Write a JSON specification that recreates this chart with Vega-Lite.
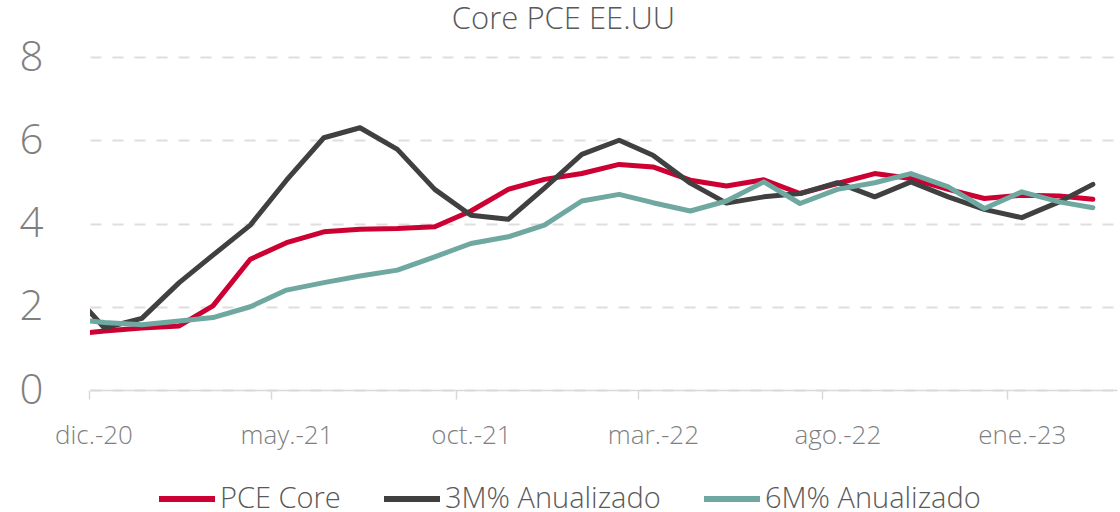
{
  "$schema": "https://vega.github.io/schema/vega-lite/v6.json",
  "width": 1027,
  "height": 333,
  "autosize": "none",
  "padding": {"left": 90, "top": 57, "right": 3, "bottom": 122},
  "background": "white",
  "config": {"font": "Open Sans", "view": {"stroke": null}},
  "title": {"text": "Core PCE EE.UU", "fontSize": 31, "font": "Open Sans", "fontWeight": 300, "color": "#595959", "anchor": "middle", "frame": "group", "dx": -40, "offset": 0},
  "data": {"values": [
    {"fecha": "2020-11-01", "PCE Core": 1.33, "3M% Anualizado": 2.45, "6M% Anualizado": 1.72},
    {"fecha": "2020-12-01", "PCE Core": 1.42, "3M% Anualizado": 1.49, "6M% Anualizado": 1.62},
    {"fecha": "2021-01-01", "PCE Core": 1.49, "3M% Anualizado": 1.72, "6M% Anualizado": 1.57},
    {"fecha": "2021-02-01", "PCE Core": 1.54, "3M% Anualizado": 2.58, "6M% Anualizado": 1.66},
    {"fecha": "2021-03-01", "PCE Core": 2.02, "3M% Anualizado": 3.24, "6M% Anualizado": 1.74},
    {"fecha": "2021-04-01", "PCE Core": 3.14, "3M% Anualizado": 3.96, "6M% Anualizado": 2.00},
    {"fecha": "2021-05-01", "PCE Core": 3.54, "3M% Anualizado": 5.04, "6M% Anualizado": 2.40},
    {"fecha": "2021-06-01", "PCE Core": 3.80, "3M% Anualizado": 6.06, "6M% Anualizado": 2.58},
    {"fecha": "2021-07-01", "PCE Core": 3.86, "3M% Anualizado": 6.30, "6M% Anualizado": 2.74},
    {"fecha": "2021-08-01", "PCE Core": 3.88, "3M% Anualizado": 5.78, "6M% Anualizado": 2.88},
    {"fecha": "2021-09-01", "PCE Core": 3.92, "3M% Anualizado": 4.82, "6M% Anualizado": 3.20},
    {"fecha": "2021-10-01", "PCE Core": 4.30, "3M% Anualizado": 4.20, "6M% Anualizado": 3.52},
    {"fecha": "2021-11-01", "PCE Core": 4.82, "3M% Anualizado": 4.10, "6M% Anualizado": 3.68},
    {"fecha": "2021-12-01", "PCE Core": 5.06, "3M% Anualizado": 4.85, "6M% Anualizado": 3.96},
    {"fecha": "2022-01-01", "PCE Core": 5.20, "3M% Anualizado": 5.66, "6M% Anualizado": 4.54},
    {"fecha": "2022-02-01", "PCE Core": 5.42, "3M% Anualizado": 6.00, "6M% Anualizado": 4.70},
    {"fecha": "2022-03-01", "PCE Core": 5.36, "3M% Anualizado": 5.64, "6M% Anualizado": 4.50},
    {"fecha": "2022-04-01", "PCE Core": 5.04, "3M% Anualizado": 4.97, "6M% Anualizado": 4.30},
    {"fecha": "2022-05-01", "PCE Core": 4.90, "3M% Anualizado": 4.49, "6M% Anualizado": 4.54},
    {"fecha": "2022-06-01", "PCE Core": 5.05, "3M% Anualizado": 4.64, "6M% Anualizado": 5.00},
    {"fecha": "2022-07-01", "PCE Core": 4.72, "3M% Anualizado": 4.72, "6M% Anualizado": 4.48},
    {"fecha": "2022-08-01", "PCE Core": 4.96, "3M% Anualizado": 4.98, "6M% Anualizado": 4.82},
    {"fecha": "2022-09-01", "PCE Core": 5.20, "3M% Anualizado": 4.64, "6M% Anualizado": 4.98},
    {"fecha": "2022-10-01", "PCE Core": 5.08, "3M% Anualizado": 5.00, "6M% Anualizado": 5.20},
    {"fecha": "2022-11-01", "PCE Core": 4.82, "3M% Anualizado": 4.64, "6M% Anualizado": 4.88},
    {"fecha": "2022-12-01", "PCE Core": 4.60, "3M% Anualizado": 4.34, "6M% Anualizado": 4.36},
    {"fecha": "2023-01-01", "PCE Core": 4.68, "3M% Anualizado": 4.14, "6M% Anualizado": 4.76},
    {"fecha": "2023-02-01", "PCE Core": 4.66, "3M% Anualizado": 4.52, "6M% Anualizado": 4.52},
    {"fecha": "2023-03-01", "PCE Core": 4.58, "3M% Anualizado": 4.94, "6M% Anualizado": 4.38}
  ]},
  "transform": [{"fold": ["PCE Core", "3M% Anualizado", "6M% Anualizado"], "as": ["serie", "valor"]}],
  "mark": {"type": "line", "strokeWidth": 5, "strokeJoin": "round", "strokeCap": "round", "clip": true},
  "encoding": {
    "x": {
      "field": "fecha", "type": "temporal",
      "scale": {"type": "utc", "domain": [{"year": 2020, "month": 11, "date": 19, "utc": true}, {"year": 2023, "month": 3, "date": 21, "utc": true}]},
      "axis": {
        "values": [
          {"year": 2020, "month": 12, "date": 1, "utc": true},
          {"year": 2021, "month": 5, "date": 1, "utc": true},
          {"year": 2021, "month": 10, "date": 1, "utc": true},
          {"year": 2022, "month": 3, "date": 1, "utc": true},
          {"year": 2022, "month": 8, "date": 1, "utc": true},
          {"year": 2023, "month": 1, "date": 1, "utc": true}
        ],
        "labelExpr": "['ene','feb','mar','abr','may','jun','jul','ago','sep','oct','nov','dic'][utcmonth(datum.value)] + '.-' + utcFormat(datum.value, '%y')",
        "title": null, "grid": false,
        "domainColor": "#d9d9d9", "domainWidth": 1.5,
        "tickColor": "#d9d9d9", "tickSize": 9, "tickWidth": 1.5, "tickOffset": -15,
        "labelOffset": {"condition": {"test": "utcyear(datum.value) == 2020", "value": 4}, "value": 15},
        "labelFontSize": 26, "labelFont": "Open Sans", "labelFontWeight": 300, "labelColor": "#7f7f7f",
        "labelPadding": 23, "labelFlush": false, "labelOverlap": false, "labelBound": false
      }
    },
    "y": {
      "field": "valor", "type": "quantitative",
      "scale": {"domain": [0, 8], "nice": false, "zero": true},
      "axis": {
        "values": [0, 2, 4, 6, 8], "title": null, "domain": false, "ticks": false,
        "grid": true, "gridColor": "#dedede", "gridDash": [11, 11], "gridWidth": 2,
        "labelFontSize": 42, "labelFont": "Open Sans", "labelFontWeight": 300, "labelColor": "#7f7f7f",
        "labelPadding": 47
      }
    },
    "color": {
      "field": "serie", "type": "nominal",
      "scale": {"domain": ["PCE Core", "3M% Anualizado", "6M% Anualizado"], "range": ["#cc0033", "#404040", "#6fa8a0"]},
      "legend": {
        "orient": "none", "legendX": 66, "legendY": 411, "direction": "horizontal", "title": null,
        "symbolType": "stroke", "symbolSize": 3136, "symbolStrokeWidth": 6,
        "labelFontSize": 29, "labelFont": "Open Sans", "labelFontWeight": 300, "labelColor": "#595959",
        "labelOffset": 2, "labelLimit": 400, "columnPadding": 31
      }
    }
  }
}
